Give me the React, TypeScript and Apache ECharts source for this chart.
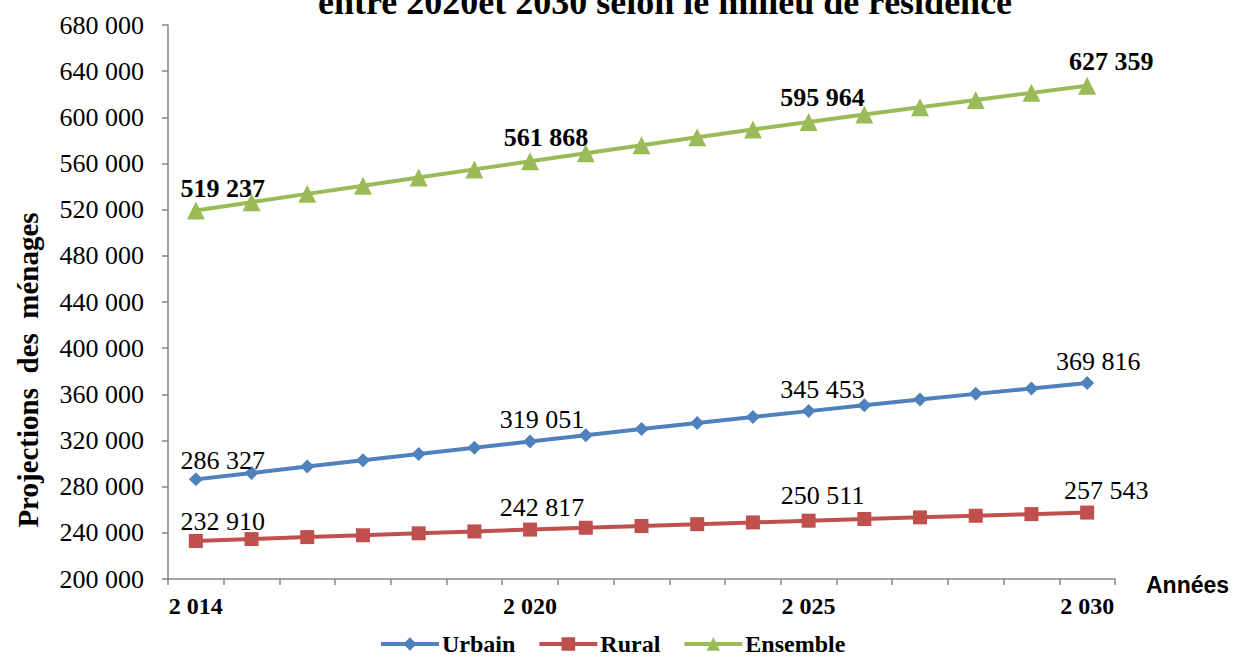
import React, { useEffect, useRef } from "react";
import * as echarts from "echarts";

const years = ["2 014", "2 015", "2 016", "2 017", "2 018", "2 019", "2 020", "2 021", "2 022", "2 023", "2 024", "2 025", "2 026", "2 027", "2 028", "2 029", "2 030"];
const urbain = [286327, 291900, 297400, 302900, 308400, 313800, 319051, 324500, 329900, 335200, 340400, 345453, 350500, 355500, 360400, 365100, 369816];
const rural = [232910, 234600, 236300, 237900, 239600, 241200, 242817, 244400, 245900, 247500, 249000, 250511, 252000, 253400, 254800, 256200, 257543];
const ensemble = [519237, 526500, 533700, 540800, 547900, 554900, 561868, 568900, 575900, 582800, 589400, 595964, 602400, 608800, 615000, 621200, 627359];
const labelledIdx = [0, 6, 11, 16];
const shownYearIdx = [0, 6, 11, 16];

const fmt = (v: number) => String(Math.round(v)).replace(/\B(?=(\d{3})+(?!\d))/g, " ");

const serif = "Liberation Serif";

export default function App() {
  const ref = useRef<HTMLDivElement>(null);
  useEffect(() => {
    document.body.style.margin = "0";
    const chart = echarts.init(ref.current!, null, { renderer: "svg" });
    const mk = (vals: number[], offsets: number[][], bold: boolean) =>
      vals.map((v, i) => {
        const k = labelledIdx.indexOf(i);
        return {
          value: v,
          label: {
            show: k >= 0,
            position: "top",
            distance: 2,
            offset: k >= 0 ? offsets[k] : [0, 0],
            formatter: (p: any) => fmt(p.value),
            fontFamily: serif,
            fontSize: 26,
            fontWeight: bold ? "bold" : "normal",
            color: "#000",
          },
        };
      });
    chart.setOption({
      animation: false,
      backgroundColor: "#fff",
      graphic: [
        {
          type: "text",
          x: 665,
          y: -16,
          style: {
            text: "entre 2020et 2030 selon le milieu de résidence",
            fontFamily: serif,
            fontWeight: "bold",
            fontSize: 36,
            fill: "#000",
            textAlign: "center",
            textVerticalAlign: "top",
          },
        },
        {
          type: "text",
          x: 28,
          y: 370,
          rotation: Math.PI / 2,
          style: {
            text: "Projections  des  ménages",
            fontFamily: serif,
            fontWeight: "bold",
            fontSize: 29,
            fill: "#000",
            textAlign: "center",
            textVerticalAlign: "middle",
          },
        },
        {
          type: "text",
          x: 1146,
          y: 585,
          style: {
            text: "Années",
            fontFamily: "Liberation Sans",
            fontWeight: "bold",
            fontSize: 23,
            fill: "#000",
            textAlign: "left",
            textVerticalAlign: "middle",
          },
        },
      ],
      grid: { left: 168, right: 121, top: 25, bottom: 78, containLabel: false },
      legend: {
        top: 627,
        left: 374,
        itemWidth: 58,
        itemHeight: 17,
        itemGap: 22,
        lineStyle: { width: 4 },
        textStyle: { fontFamily: serif, fontWeight: "bold", fontSize: 24, color: "#000", padding: [0, 0, 0, -2] },
        data: ["Urbain", "Rural", "Ensemble"],
      },
      xAxis: {
        type: "category",
        data: years,
        boundaryGap: true,
        axisLine: { lineStyle: { color: "#868686", width: 1.5 } },
        axisTick: { show: true, interval: 0, length: 6, lineStyle: { color: "#868686", width: 1.5 } },
        axisLabel: {
          interval: (i: number) => shownYearIdx.includes(i),
          fontFamily: serif,
          fontWeight: "bold",
          fontSize: 24,
          color: "#000",
          margin: 15,
        },
        splitLine: { show: false },
      },
      yAxis: {
        type: "value",
        min: 200000,
        max: 680000,
        interval: 40000,
        axisLine: { show: true, lineStyle: { color: "#868686", width: 1.5 } },
        axisTick: { show: true, inside: false, length: 6, lineStyle: { color: "#868686", width: 1.5 } },
        axisLabel: { formatter: (v: number) => fmt(v), fontFamily: serif, fontSize: 26, color: "#000", margin: 24 },
        splitLine: { show: false },
      },
      series: [
        {
          name: "Urbain",
          type: "line",
          data: mk(urbain, [[27, 3], [12, 0], [14, 0], [11, 0]], false),
          symbol: "diamond",
          symbolSize: 14,
          lineStyle: { width: 4, color: "#4F81BD" },
          itemStyle: { color: "#4F81BD" },
        },
        {
          name: "Rural",
          type: "line",
          data: mk(rural, [[27, 2], [12, 0], [14, -3], [19, 0]], false),
          symbol: "rect",
          symbolSize: 14,
          lineStyle: { width: 4, color: "#C0504D" },
          itemStyle: { color: "#C0504D" },
        },
        {
          name: "Ensemble",
          type: "line",
          data: mk(ensemble, [[27, 2], [16, 0], [14, 0], [24, 0]], true),
          symbol: "triangle",
          symbolSize: 18,
          lineStyle: { width: 4, color: "#9BBB59" },
          itemStyle: { color: "#9BBB59" },
        },
      ],
    });
    return () => chart.dispose();
  }, []);
  return <div ref={ref} style={{ width: 1236, height: 657 }} />;
}
